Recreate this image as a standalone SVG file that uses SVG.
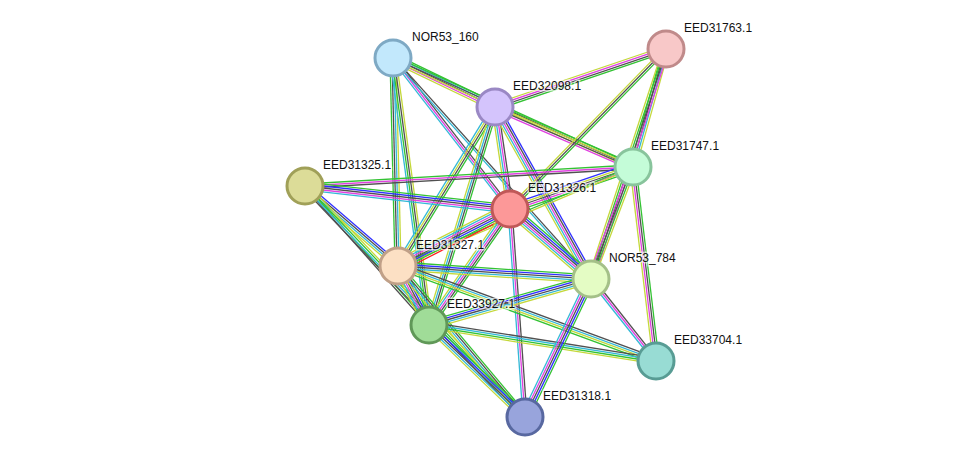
<svg xmlns="http://www.w3.org/2000/svg" width="975" height="463" viewBox="0 0 975 463">
<style>
path{fill:none;stroke-width:1.3}
.g{stroke:#33c233}.b{stroke:#3030ff}.c{stroke:#33b8d6}.k{stroke:#505050}.m{stroke:#e040e0}.y{stroke:#c4d83a}.r{stroke:#ff2020}
circle{stroke-width:3}
text{font-family:"Liberation Sans",Arial,sans-serif;font-size:12px;fill:#111;stroke:#fff;stroke-width:3;stroke-opacity:0.6;paint-order:stroke}
</style>
<rect width="975" height="463" fill="#fff"/>
<g id="edges">
<g transform="translate(393 58) rotate(25.66)"><path class="g" d="M0 -4h113"/><path class="c" d="M0 -2h113"/><path class="k" d="M0 0h113"/><path class="m" d="M0 2h113"/><path class="y" d="M0 4h113"/></g>
<g transform="translate(393 58) rotate(24.43)"><path class="g" d="M0 -2h264"/><path class="k" d="M0 0h264"/><path class="y" d="M0 2h264"/></g>
<g transform="translate(393 58) rotate(52.23)"><path class="k" d="M0 -2h191"/><path class="m" d="M0 0h191"/><path class="c" d="M0 2h191"/></g>
<g transform="translate(393 58) rotate(48.14)"><path class="k" d="M0 -1h297"/><path class="c" d="M0 1h297"/></g>
<g transform="translate(393 58) rotate(88.62)"><path class="y" d="M0 -3h208"/><path class="c" d="M0 -1h208"/><path class="k" d="M0 1h208"/><path class="g" d="M0 3h208"/></g>
<g transform="translate(393 58) rotate(82.32)"><path class="y" d="M0 -3h269"/><path class="k" d="M0 -1h269"/><path class="g" d="M0 1h269"/><path class="c" d="M0 3h269"/></g>
<g transform="translate(495 107) rotate(-18.74)"><path class="y" d="M0 -3h181"/><path class="m" d="M0 -1h181"/><path class="k" d="M0 1h181"/><path class="g" d="M0 3h181"/></g>
<g transform="translate(495 107) rotate(23.5)"><path class="g" d="M0 -3h150"/><path class="y" d="M0 -1h150"/><path class="k" d="M0 1h150"/><path class="m" d="M0 3h150"/></g>
<g transform="translate(495 107) rotate(81.63)"><path class="k" d="M0 -3h103"/><path class="m" d="M0 -1h103"/><path class="c" d="M0 1h103"/><path class="y" d="M0 3h103"/></g>
<g transform="translate(495 107) rotate(60.83)"><path class="b" d="M0 -4h197"/><path class="k" d="M0 -2h197"/><path class="m" d="M0 0h197"/><path class="c" d="M0 2h197"/><path class="y" d="M0 4h197"/></g>
<g transform="translate(495 107) rotate(121.39)"><path class="g" d="M0 -3h186"/><path class="k" d="M0 -1h186"/><path class="y" d="M0 1h186"/><path class="c" d="M0 3h186"/></g>
<g transform="translate(495 107) rotate(106.84)"><path class="g" d="M0 -3h228"/><path class="k" d="M0 -1h228"/><path class="c" d="M0 1h228"/><path class="y" d="M0 3h228"/></g>
<g transform="translate(666 49) rotate(105.62)"><path class="y" d="M0 -3h122"/><path class="c" d="M0 -1h122"/><path class="k" d="M0 1h122"/><path class="g" d="M0 3h122"/></g>
<g transform="translate(666 49) rotate(108.06)"><path class="m" d="M0 -3h242"/><path class="k" d="M0 -1h242"/><path class="g" d="M0 1h242"/><path class="y" d="M0 3h242"/></g>
<g transform="translate(666 49) rotate(134.28)"><path class="g" d="M0 -2h223"/><path class="k" d="M0 0h223"/><path class="y" d="M0 2h223"/></g>
<g transform="translate(305 186) rotate(-3.32)"><path class="g" d="M0 -2h328"/><path class="m" d="M0 0h328"/><path class="k" d="M0 2h328"/></g>
<g transform="translate(305 186) rotate(6.4)"><path class="g" d="M0 -4h206"/><path class="b" d="M0 -2h206"/><path class="k" d="M0 0h206"/><path class="m" d="M0 2h206"/><path class="c" d="M0 4h206"/></g>
<g transform="translate(633 167) rotate(161.15)"><path class="g" d="M0 -4h130"/><path class="m" d="M0 -2h130"/><path class="k" d="M0 0h130"/><path class="y" d="M0 2h130"/><path class="b" d="M0 4h130"/></g>
<g transform="translate(633 167) rotate(157.15)"><path class="y" d="M0 -1h255"/><path class="g" d="M0 1h255"/></g>
<g transform="translate(633 167) rotate(110.56)"><path class="y" d="M0 -3h120"/><path class="g" d="M0 -1h120"/><path class="k" d="M0 1h120"/><path class="m" d="M0 3h120"/></g>
<g transform="translate(633 167) rotate(83.24)"><path class="g" d="M0 -3h195"/><path class="k" d="M0 -1h195"/><path class="m" d="M0 1h195"/><path class="y" d="M0 3h195"/></g>
<g transform="translate(510 209) rotate(153.03)"><path class="r" d="M0 -6h126"/><path class="g" d="M0 -4h126"/><path class="b" d="M0 -2h126"/><path class="k" d="M0 0h126"/><path class="m" d="M0 2h126"/><path class="c" d="M0 4h126"/><path class="y" d="M0 6h126"/></g>
<g transform="translate(510 209) rotate(124.93)"><path class="g" d="M0 -4h141"/><path class="k" d="M0 -2h141"/><path class="m" d="M0 0h141"/><path class="c" d="M0 2h141"/><path class="y" d="M0 4h141"/></g>
<g transform="translate(510 209) rotate(40.83)"><path class="g" d="M0 -5h107"/><path class="b" d="M0 -3h107"/><path class="k" d="M0 -1h107"/><path class="m" d="M0 1h107"/><path class="c" d="M0 3h107"/><path class="y" d="M0 5h107"/></g>
<g transform="translate(510 209) rotate(85.88)"><path class="k" d="M0 -2h208"/><path class="m" d="M0 0h208"/><path class="c" d="M0 2h208"/></g>
<g transform="translate(305 186) rotate(40.7)"><path class="b" d="M0 -3h123"/><path class="k" d="M0 -1h123"/><path class="c" d="M0 1h123"/><path class="y" d="M0 3h123"/></g>
<g transform="translate(305 186) rotate(48.27)"><path class="g" d="M0 -1h186"/><path class="k" d="M0 1h186"/></g>
<g transform="translate(305 186) rotate(46.4)"><path class="y" d="M0 -3h319"/><path class="g" d="M0 -1h319"/><path class="c" d="M0 1h319"/><path class="k" d="M0 3h319"/></g>
<g transform="translate(398 266) rotate(3.85)"><path class="g" d="M0 -4h193"/><path class="b" d="M0 -2h193"/><path class="k" d="M0 0h193"/><path class="c" d="M0 2h193"/><path class="y" d="M0 4h193"/></g>
<g transform="translate(398 266) rotate(62.28)"><path class="g" d="M0 -5h67"/><path class="b" d="M0 -3h67"/><path class="k" d="M0 -1h67"/><path class="m" d="M0 1h67"/><path class="c" d="M0 3h67"/><path class="y" d="M0 5h67"/></g>
<g transform="translate(398 266) rotate(49.93)"><path class="g" d="M0 -3h197"/><path class="k" d="M0 -1h197"/><path class="c" d="M0 1h197"/><path class="y" d="M0 3h197"/></g>
<g transform="translate(398 266) rotate(20.21)"><path class="k" d="M0 -3h275"/><path class="c" d="M0 -1h275"/><path class="y" d="M0 1h275"/><path class="g" d="M0 3h275"/></g>
<g transform="translate(429 325) rotate(-15.85)"><path class="g" d="M0 -4h168"/><path class="b" d="M0 -2h168"/><path class="k" d="M0 0h168"/><path class="c" d="M0 2h168"/><path class="y" d="M0 4h168"/></g>
<g transform="translate(429 325) rotate(43.78)"><path class="g" d="M0 -4h133"/><path class="b" d="M0 -2h133"/><path class="k" d="M0 0h133"/><path class="c" d="M0 2h133"/><path class="y" d="M0 4h133"/></g>
<g transform="translate(429 325) rotate(9.01)"><path class="k" d="M0 -3h230"/><path class="c" d="M0 -1h230"/><path class="g" d="M0 1h230"/><path class="y" d="M0 3h230"/></g>
<g transform="translate(591 279) rotate(115.56)"><path class="g" d="M0 -4h153"/><path class="b" d="M0 -2h153"/><path class="k" d="M0 0h153"/><path class="m" d="M0 2h153"/><path class="c" d="M0 4h153"/></g>
<g transform="translate(591 279) rotate(51.59)"><path class="k" d="M0 -2h105"/><path class="m" d="M0 0h105"/><path class="c" d="M0 2h105"/></g>
</g>
<g id="n-NOR53_160"><circle cx="393" cy="58" r="18" fill="#c2e8fc" stroke="#7ea9c4"/><text x="412" y="41">NOR53_160</text></g>
<g id="n-EED31763.1"><circle cx="666" cy="49" r="18" fill="#f8c8c8" stroke="#c08a8a"/><text x="684" y="32">EED31763.1</text></g>
<g id="n-EED32098.1"><circle cx="495" cy="107" r="18" fill="#d4c4fc" stroke="#9a88c4"/><text x="513" y="90">EED32098.1</text></g>
<g id="n-EED31747.1"><circle cx="633" cy="167" r="18" fill="#c4fcd8" stroke="#88c49c"/><text x="651" y="150">EED31747.1</text></g>
<g id="n-EED31325.1"><circle cx="305" cy="186" r="18" fill="#dcdc98" stroke="#a0a058"/><text x="323" y="169">EED31325.1</text></g>
<g id="n-EED31326.1"><circle cx="510" cy="209" r="18" fill="#fc9898" stroke="#c05858"/><text x="528" y="192">EED31326.1</text></g>
<g id="n-EED31327.1"><circle cx="398" cy="266" r="18" fill="#fce0c4" stroke="#c0a088"/><text x="416" y="249">EED31327.1</text></g>
<g id="n-NOR53_784"><circle cx="591" cy="279" r="18" fill="#e4fcc4" stroke="#a4c088"/><text x="609" y="262">NOR53_784</text></g>
<g id="n-EED33927.1"><circle cx="429" cy="325" r="18" fill="#a0dc98" stroke="#609858"/><text x="447" y="308">EED33927.1</text></g>
<g id="n-EED33704.1"><circle cx="656" cy="361" r="18" fill="#98dcd4" stroke="#589c94"/><text x="674" y="344">EED33704.1</text></g>
<g id="n-EED31318.1"><circle cx="525" cy="417" r="18" fill="#98a4dc" stroke="#5868a0"/><text x="543" y="400">EED31318.1</text></g>
</svg>
